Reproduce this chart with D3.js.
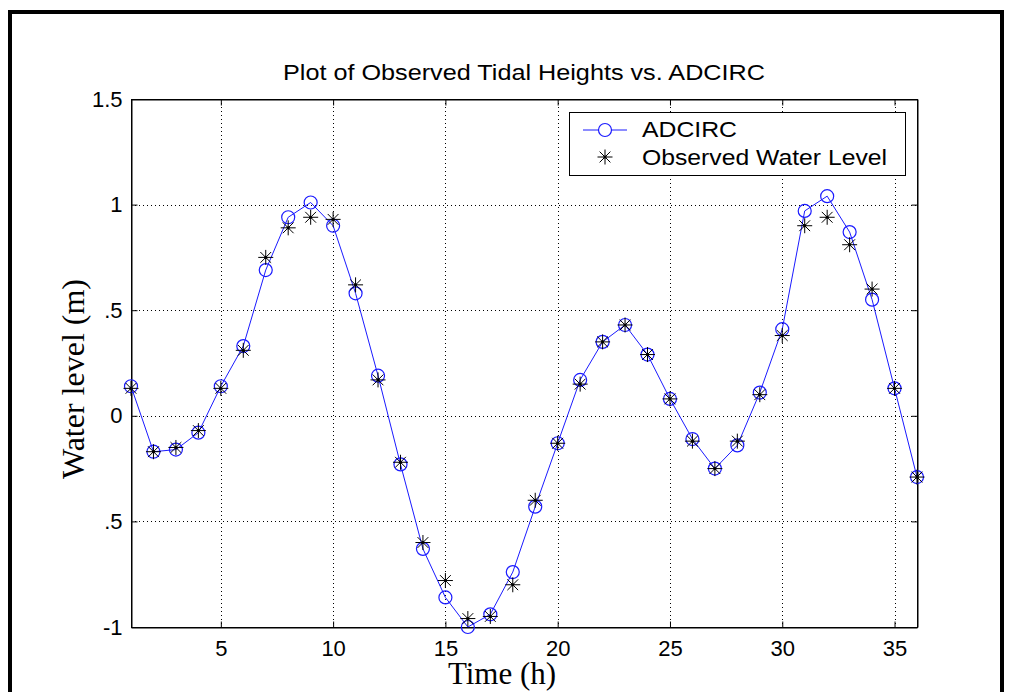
<!DOCTYPE html>
<html>
<head>
<meta charset="utf-8">
<script src="https://cdn.jsdelivr.net/npm/d3@7"></script>
<style>
  body { margin: 0; background: #fff; }
  svg { display: block; }
</style>
</head>
<body>
<div id="chart"></div>
<script>
// hours 1..36
const hours = d3.range(1, 37);
// ADCIRC model
const adcirc = [0.14, -0.17, -0.16, -0.08, 0.14, 0.33, 0.69, 0.94, 1.01, 0.90,
  0.58, 0.19, -0.23, -0.63, -0.86, -1.00, -0.94, -0.74, -0.43, -0.13,
  0.17, 0.35, 0.43, 0.29, 0.08, -0.11, -0.25, -0.14, 0.11, 0.41,
  0.97, 1.04, 0.87, 0.55, 0.13, -0.29];
// observed water level
const observed = [0.13, -0.17, -0.15, -0.07, 0.13, 0.31, 0.75, 0.89, 0.94, 0.93,
  0.62, 0.17, -0.22, -0.60, -0.78, -0.96, -0.95, -0.80, -0.40, -0.13,
  0.15, 0.35, 0.43, 0.29, 0.08, -0.12, -0.25, -0.12, 0.10, 0.38,
  0.90, 0.94, 0.81, 0.60, 0.13, -0.29];
const xTicks = [5, 10, 15, 20, 25, 30, 35];
const yTicks = [-1, -0.5, 0, 0.5, 1, 1.5];
const yTickLabels = ["-1", ".5", "0", ".5", "1", "1.5"];

const W = 1011, H = 692;
const mLeft = 131, mRight = 917, mTop = 99, mBottom = 627;
const sans = "'Liberation Sans', Arial, sans-serif";
const serif = "'Liberation Serif', 'Times New Roman', serif";
const blue = "#1a1aff";

const svg = d3.select("#chart").append("svg")
  .attr("width", W)
  .attr("height", H);

svg.append("rect").attr("width", W).attr("height", H).attr("fill", "#fff");

// outer frame
svg.append("rect")
  .attr("x", 10).attr("y", 12)
  .attr("width", 992).attr("height", 700)
  .attr("fill", "none").attr("stroke", "#000").attr("stroke-width", 4);

const x = d3.scaleLinear().domain([1, 36]).range([mLeft, mRight]);
const y = d3.scaleLinear().domain([-1, 1.5]).range([mBottom, mTop]);

// grid
const grid = svg.append("g").attr("stroke", "#000").attr("stroke-width", 1)
  .attr("stroke-dasharray", "1,3");
grid.selectAll(".gx").data(xTicks).enter().append("line")
  .attr("x1", d => Math.round(x(d)) + 0.5).attr("x2", d => Math.round(x(d)) + 0.5)
  .attr("y1", mTop).attr("y2", mBottom);
grid.selectAll(".gy").data(yTicks.slice(1, -1)).enter().append("line")
  .attr("y1", d => Math.round(y(d)) + 0.5).attr("y2", d => Math.round(y(d)) + 0.5)
  .attr("x1", mLeft).attr("x2", mRight);

// axes (ticks inward, box)
const xAxis = svg.append("g")
  .attr("transform", `translate(0,${mBottom + 0.5})`)
  .call(d3.axisBottom(x).tickValues(xTicks).tickSizeInner(-6).tickSizeOuter(0).tickPadding(13));
const xTop = svg.append("g")
  .attr("transform", `translate(0,${mTop + 0.5})`)
  .call(d3.axisTop(x).tickValues(xTicks).tickSizeInner(-6).tickSizeOuter(0).tickFormat(""));
const yAxis = svg.append("g")
  .attr("transform", `translate(${mLeft + 0.5},0)`)
  .call(d3.axisLeft(y).tickValues(yTicks).tickSizeInner(-6).tickSizeOuter(0).tickPadding(9)
    .tickFormat((d, i) => yTickLabels[i]));
const yRight = svg.append("g")
  .attr("transform", `translate(${mRight + 0.5},0)`)
  .call(d3.axisRight(y).tickValues(yTicks).tickSizeInner(-6).tickSizeOuter(0).tickFormat(""));

[xAxis, xTop, yAxis, yRight].forEach(g => {
  g.select(".domain").attr("stroke", "#000");
  g.selectAll(".tick line").attr("stroke", "#000");
  g.selectAll("text").attr("font-family", sans).attr("font-size", 22).attr("fill", "#000");
});
svg.append("rect")
  .attr("x", mLeft + 0.5).attr("y", mTop + 0.5)
  .attr("width", mRight - mLeft).attr("height", mBottom - mTop)
  .attr("fill", "none").attr("stroke", "#000");

// ADCIRC line + circles
const line = d3.line().x((d, i) => x(hours[i])).y(d => y(d));
svg.append("path").datum(adcirc)
  .attr("d", line).attr("fill", "none").attr("stroke", blue).attr("stroke-width", 1);
svg.selectAll(".adc").data(adcirc).enter().append("circle")
  .attr("cx", (d, i) => x(hours[i])).attr("cy", d => y(d)).attr("r", 6.5)
  .attr("fill", "none").attr("stroke", blue).attr("stroke-width", 1.2);

// observed asterisks
function star(g, cx, cy, r) {
  const a = r * 0.72;
  g.append("path")
    .attr("d", `M${cx - r},${cy}H${cx + r}M${cx},${cy - r}V${cy + r}` +
      `M${cx - a},${cy - a}L${cx + a},${cy + a}M${cx - a},${cy + a}L${cx + a},${cy - a}`)
    .attr("stroke", "#000").attr("stroke-width", 1).attr("fill", "none");
  g.append("circle").attr("cx", cx).attr("cy", cy).attr("r", 1.6).attr("fill", "#000");
}
const obsG = svg.append("g");
observed.forEach((d, i) => star(obsG, x(hours[i]), y(d), 7.5));

// title and labels
svg.append("text")
  .attr("x", (mLeft + mRight) / 2).attr("y", 80)
  .attr("text-anchor", "middle").attr("font-family", sans).attr("font-size", 22)
  .attr("textLength", 482).attr("lengthAdjust", "spacingAndGlyphs")
  .text("Plot of Observed Tidal Heights vs. ADCIRC");
svg.append("text")
  .attr("x", 502).attr("y", 684)
  .attr("text-anchor", "middle").attr("font-family", serif).attr("font-size", 31)
  .text("Time (h)");
svg.append("text")
  .attr("transform", "translate(84,379) rotate(-90)")
  .attr("text-anchor", "middle").attr("font-family", serif).attr("font-size", 32)
  .text("Water level (m)");

// legend
const lg = svg.append("g");
lg.append("rect").attr("x", 569.5).attr("y", 112.5).attr("width", 336).attr("height", 63)
  .attr("fill", "#fff").attr("stroke", "#000");
lg.append("line").attr("x1", 583).attr("x2", 627).attr("y1", 130).attr("y2", 130)
  .attr("stroke", blue);
lg.append("circle").attr("cx", 605).attr("cy", 130).attr("r", 6.5)
  .attr("fill", "#fff").attr("stroke", blue).attr("stroke-width", 1.2);
star(lg, 605, 157, 7.5);
lg.append("text").attr("x", 642).attr("y", 137).attr("font-family", sans).attr("font-size", 22)
  .attr("textLength", 95).attr("lengthAdjust", "spacingAndGlyphs")
  .text("ADCIRC");
lg.append("text").attr("x", 642).attr("y", 165).attr("font-family", sans).attr("font-size", 22)
  .attr("textLength", 245).attr("lengthAdjust", "spacingAndGlyphs")
  .text("Observed Water Level");
</script>
</body>
</html>
